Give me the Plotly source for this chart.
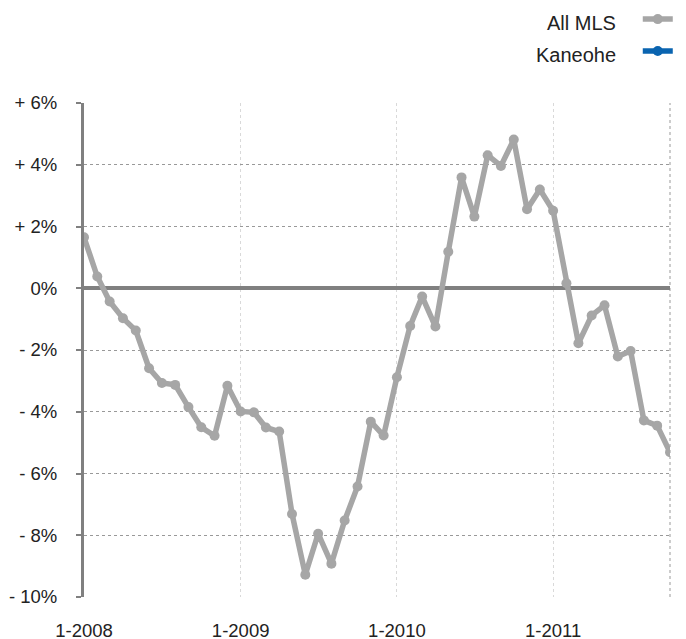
import pandas as pd
import plotly.graph_objects as go

# monthly year-over-year change, Jan 2008 .. Oct 2011
months = pd.date_range("2008-01-01", periods=46, freq="MS")
all_mls = [
    1.65, 0.38, -0.43, -0.97, -1.37, -2.59, -3.07, -3.13, -3.85, -4.50, -4.78, -3.16,
    -3.99, -4.02, -4.51, -4.64, -7.31, -9.28, -7.95, -8.92, -7.52, -6.42, -4.32, -4.77,
    -2.88, -1.22, -0.27, -1.24, 1.18, 3.59, 2.32, 4.31, 3.96, 4.82, 2.56, 3.20,
    2.51, 0.16, -1.78, -0.88, -0.55, -2.21, -2.03, -4.28, -4.45, -5.31,
]
# Kaneohe only appears in the legend of this panel, no values are drawn
kaneohe = [None] * len(months)

series_names = ["All MLS", "Kaneohe"]
series_colors = ["#a6a6a6", "#0a64b0"]

y_ticks = [-10, -8, -6, -4, -2, 0, 2, 4, 6]
y_ticktext = ["- 10%", "- 8%", "- 6%", "- 4%", "- 2%", "0%", "+ 2%", "+ 4%", "+ 6%"]
x_ticks = ["2008-01-01", "2009-01-01", "2010-01-01", "2011-01-01"]
x_ticktext = ["1-2008", "1-2009", "1-2010", "1-2011"]

FONT = "Liberation Sans, Arial, Helvetica, sans-serif"

fig = go.Figure()
for name, color, vals in zip(series_names, series_colors, [all_mls, kaneohe]):
    fig.add_trace(go.Scatter(
        x=months, y=vals, mode="lines+markers", name="", legendgroup=name,
        line=dict(color=color, width=5.5),
        marker=dict(color=color, size=10),
        hovertemplate=name + ": %{y:.2f}%<extra></extra>",
    ))

# legend labels sit to the left of the keys, as in the original
for i, name in enumerate(series_names):
    fig.add_annotation(
        text=name, xref="paper", yref="paper", x=0.911, y=1.161 - i * 0.064,
        xanchor="right", yanchor="middle", showarrow=False,
        font=dict(size=20, color="#222222", family=FONT),
    )

# dotted right border of the plot area
fig.add_shape(type="line", xref="paper", yref="paper", x0=1, x1=1, y0=0, y1=1,
              line=dict(color="#999999", width=1, dash="dot"), layer="below")

# the page body offsets the figure by 8px; size it to reach the window edges
fig.update_layout(
    width=678, height=631,
    margin=dict(l=76, r=16, t=95, b=42, autoexpand=False),
    plot_bgcolor="white", paper_bgcolor="white",
    font=dict(family=FONT, size=18.5, color="#222222"),
    showlegend=True,
    legend=dict(x=0.945, y=1.204, xanchor="left", yanchor="top",
                font=dict(size=16), tracegroupgap=8, itemwidth=30,
                bgcolor="rgba(0,0,0,0)"),
    xaxis=dict(
        range=[months[0], months[-1]],
        tickvals=x_ticks, ticktext=x_ticktext,
        showgrid=True, gridcolor="#d9d9d9", griddash="dot", gridwidth=1,
        showline=False, zeroline=False, ticks="", ticklabelstandoff=20,
    ),
    yaxis=dict(
        range=[-10, 6], tickvals=y_ticks, ticktext=y_ticktext,
        showgrid=True, gridcolor="#999999", griddash="dot", gridwidth=1,
        zeroline=True, zerolinecolor="#808080", zerolinewidth=4,
        showline=True, linecolor="#808080", linewidth=3,
        ticks="outside", ticklen=5, tickwidth=2, tickcolor="#808080",
        ticklabelstandoff=15,
    ),
)

fig.write_html("out.html")
